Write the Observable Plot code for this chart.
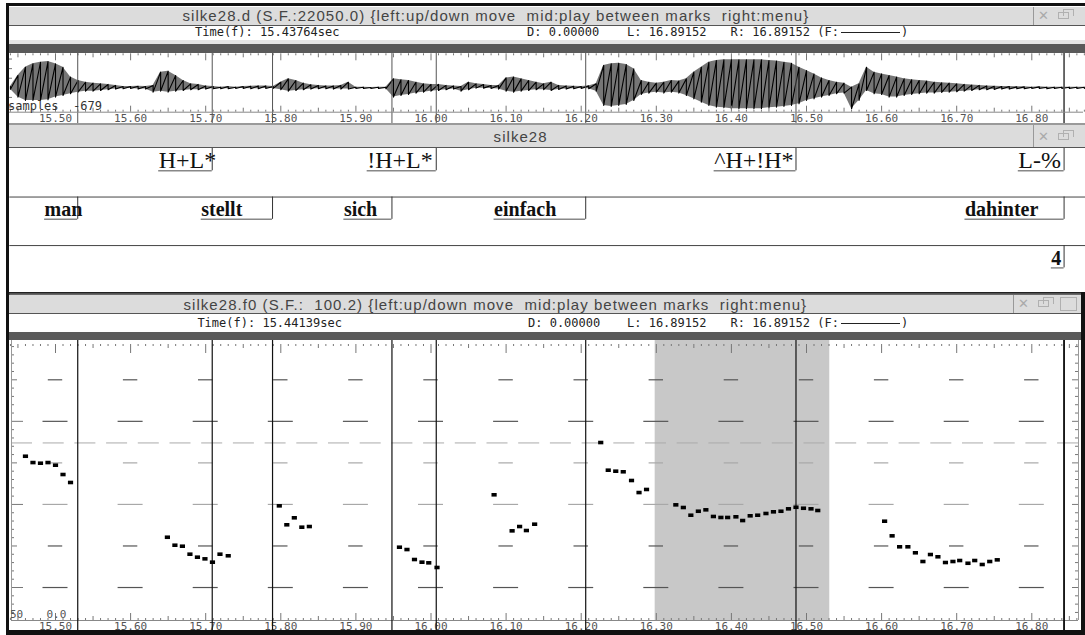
<!DOCTYPE html>
<html>
<head>
<meta charset="utf-8">
<script src="https://cdn.jsdelivr.net/npm/d3@7"></script>
<script src="https://cdn.jsdelivr.net/npm/@observablehq/plot@0.6"></script>
<style>
  html, body { margin:0; padding:0; background:#fff; }
  #root { position:relative; width:1085px; height:635px; overflow:hidden; background:#fff; }
  .a { position:absolute; box-sizing:border-box; }
  .tt { position:absolute; font-family:"Liberation Sans", Arial, sans-serif; font-size:15px; letter-spacing:1.05px; color:#444; white-space:pre; line-height:17px; }
  .mono { position:absolute; font-family:"DejaVu Sans Mono", monospace; font-size:12px; color:#222; white-space:pre; line-height:14px; }
  .small { position:absolute; font-family:"DejaVu Sans Mono", monospace; font-size:11px; color:#555; white-space:pre; line-height:13px; }
  .ico { position:absolute; font-family:"DejaVu Sans", sans-serif; font-size:13px; color:#aaa; line-height:15px; }
  .plot { position:absolute; left:0; }
</style>
</head>
<body>
<div id="root"></div>
<script>
// ================= DATA =================
const xTickValues = [15.5, 15.6, 15.7, 15.8, 15.9, 16.0, 16.1, 16.2, 16.3, 16.4, 16.5, 16.6, 16.7, 16.8];

// waveform envelope (sample units), read per 10 ms
const waveTimes = [
  15.44, 15.45, 15.46, 15.47, 15.48, 15.49, 15.50, 15.51, 15.52, 15.53,
  15.54, 15.55, 15.56, 15.57, 15.58, 15.59, 15.60, 15.61, 15.62, 15.63,
  15.64, 15.65, 15.66, 15.67, 15.68, 15.69, 15.70, 15.71, 15.72, 15.73,
  15.74, 15.75, 15.76, 15.77, 15.78, 15.79, 15.80, 15.81, 15.82, 15.83,
  15.84, 15.85, 15.86, 15.87, 15.88, 15.89, 15.90, 15.91, 15.92, 15.93,
  15.94, 15.95, 15.96, 15.97, 15.98, 15.99, 16.00, 16.01, 16.02, 16.03,
  16.04, 16.05, 16.06, 16.07, 16.08, 16.09, 16.10, 16.11, 16.12, 16.13,
  16.14, 16.15, 16.16, 16.17, 16.18, 16.19, 16.20, 16.21, 16.22, 16.23,
  16.24, 16.25, 16.26, 16.27, 16.28, 16.29, 16.30, 16.31, 16.32, 16.33,
  16.34, 16.35, 16.36, 16.37, 16.38, 16.39, 16.40, 16.41, 16.42, 16.43,
  16.44, 16.45, 16.46, 16.47, 16.48, 16.49, 16.50, 16.51, 16.52, 16.53,
  16.54, 16.55, 16.56, 16.57, 16.58, 16.59, 16.60, 16.61, 16.62, 16.63,
  16.64, 16.65, 16.66, 16.67, 16.68, 16.69, 16.70, 16.71, 16.72, 16.73,
  16.74, 16.75, 16.76, 16.77, 16.78, 16.79, 16.80, 16.81, 16.82, 16.83,
  16.84, 16.85, 16.86, 16.87
];
const waveUpper = [
  42, 385, 645, 750, 800, 820, 750, 645, 335, 230,
  175, 145, 125, 105, 75, 40, 40, 50, 40, 75,
  490, 520, 385, 230, 125, 105, 60, 40, 20, 40,
  20, 40, 50, 60, 60, 40, 175, 280, 230, 145,
  95, 75, 60, 60, 75, 175, 20, 20, 10, 20,
  20, 280, 250, 230, 175, 125, 105, 105, 75, 60,
  40, 175, 125, 105, 75, 75, 310, 335, 280, 230,
  175, 125, 175, 75, 60, 50, 40, 60, 125, 700,
  750, 770, 730, 595, 230, 175, 145, 175, 230, 210,
  280, 490, 645, 800, 855, 875, 875, 875, 875, 875,
  875, 855, 835, 800, 770, 645, 540, 435, 310, 230,
  175, 145, 20, 125, 645, 490, 435, 385, 335, 280,
  250, 230, 210, 175, 155, 145, 125, 105, 85, 75,
  60, 50, 40, 40, 30, 30, 20, 30, 20, 20,
  20, 20, 20, 20
];
const waveLower = [
  -42, -290, -395, -395, -395, -375, -290, -240, -185, -135,
  -105, -105, -85, -60, -40, -30, -20, -40, -40, -135,
  -105, -135, -105, -85, -60, -60, -40, -30, -30, -30,
  -20, -20, -30, -30, -20, -20, -60, -105, -85, -60,
  -40, -30, -30, -40, -40, -40, -20, -20, -20, -20,
  -30, -290, -240, -210, -165, -135, -105, -85, -60, -40,
  -105, -60, -10, -10, -20, -40, -105, -135, -105, -85,
  -60, -60, -85, -50, -40, -30, -20, -30, -105, -550,
  -585, -550, -520, -395, -210, -165, -135, -165, -135, -165,
  -240, -345, -450, -550, -605, -625, -655, -655, -655, -655,
  -655, -625, -605, -585, -550, -500, -395, -345, -290, -240,
  -185, -165, -655, -395, -85, -185, -210, -290, -290, -240,
  -210, -185, -165, -165, -145, -135, -125, -105, -85, -60,
  -60, -50, -40, -40, -30, -30, -20, -20, -30, -20,
  -20, -20, -20, -20
];

// label tiers: text, mark time, start of label text (s)
const toneLabels = ["H+L*", "!H+L*", "^H+!H*", "L-%"];
const toneTimes  = [15.7087, 16.007, 16.486, 16.843];
const toneStarts = [15.6374, 15.915, 16.377, 16.782];

const wordLabels = ["man", "stellt", "sich", "einfach", "dahinter"];
const wordTimes  = [15.5296, 15.789, 15.948, 16.206, 16.843];
const wordStarts = [15.4855, 15.694, 15.884, 16.084, 16.711];

const breakLabels = ["4"];
const breakTimes  = [16.843];
const breakStarts = [16.826];

// F0 track (Hz)
const f0Times = [
  15.460, 15.470, 15.480, 15.490, 15.500, 15.510, 15.520,
  15.649, 15.659, 15.669, 15.679, 15.689, 15.699, 15.709, 15.719, 15.730,
  15.798, 15.808, 15.818, 15.828, 15.838,
  15.958, 15.968, 15.978, 15.988, 15.997, 16.008,
  16.084, 16.108, 16.118, 16.127, 16.138,
  16.226, 16.236, 16.246, 16.256, 16.267, 16.277, 16.287,
  16.326, 16.336, 16.346, 16.356, 16.366, 16.376, 16.386, 16.395, 16.406, 16.415,
  16.425, 16.435, 16.446, 16.456, 16.466, 16.476, 16.486, 16.496, 16.506, 16.515,
  16.604, 16.614, 16.624, 16.635, 16.645, 16.655, 16.665, 16.675, 16.685, 16.695,
  16.704, 16.715, 16.724, 16.734, 16.744, 16.754
];
const f0Values = [
  258.0, 250.4, 249.6, 250.4, 247.2, 236.0, 226.4,
  160.5, 150.9, 149.7, 140.1, 136.5, 134.5, 130.5, 140.1, 138.2,
  198.3, 175.5, 183.9, 172.6, 173.4,
  148.5, 145.7, 133.7, 130.5, 129.7, 124.1,
  211.6, 168.2, 173.4, 168.6, 176.2,
  274.5, 241.2, 240.0, 239.3, 228.8, 214.3, 218.0,
  199.5, 196.3, 187.0, 191.8, 193.5, 185.5, 184.3, 184.3, 185.1, 180.6,
  186.3, 187.0, 189.1, 191.1, 191.8, 194.7, 196.6, 195.4, 194.7, 192.7,
  179.8, 162.2, 149.0, 149.0, 141.8, 131.3, 139.7, 137.0, 130.1, 131.3,
  132.5, 129.2, 132.5, 127.7, 131.3, 133.3
];
const f0GridHz = [100, 150, 200, 250, 300, 350];
const f0RefHz = [274];
const selection = [16.2985, 16.531];

// ================= LAYOUT =================
const root = document.getElementById("root");
function box(l, t, w, h, bg, extra) {
  const d = document.createElement("div"); d.className = "a";
  Object.assign(d.style, {left: l + "px", top: t + "px", width: w + "px", height: h + "px", background: bg}, extra || {});
  root.appendChild(d); return d;
}
function txt(l, t, s, cls, extra) {
  const d = document.createElement("div"); d.className = cls; d.textContent = s;
  Object.assign(d.style, {left: l + "px", top: t + "px"}, extra || {});
  root.appendChild(d); return d;
}
function icons(xx, xIco, xSq, cy) {
  txt(xx, cy - 8, "\u2715", "ico");
  box(xIco, cy - 4, 11, 7, "transparent", {border: "1px solid #b0b0b0"});
  box(xIco + 5, cy - 7, 11, 7, "transparent", {border: "1px solid #b0b0b0", borderBottom: "none"});
  if (xSq) box(xSq, cy - 7, 17, 14, "transparent", {border: "1px solid #b0b0b0"});
}

const X_DOMAIN = [15.5, 16.8], X_RANGE = [55, 1031.3];
const fx = d3.scaleLinear(X_DOMAIN, X_RANGE);
const allMarks = [...toneTimes, ...wordTimes, ...breakTimes];

// ---- chrome (window 1)
box(9.3, 7, 1075.7, 18, "#dcdcdc");
box(9.3, 25, 1075.7, 1, "#555");
txt(182.5, 7.3, "silke28.d (S.F.:22050.0) {left:up/down move  mid:play between marks  right:menu}", "tt");
box(1033, 7, 1, 18, "#999");
icons(1038, 1058, null, 16);
txt(195, 24.6, "Time(f): 15.43764sec", "mono");
txt(527, 24.6, "D: 0.00000", "mono");
txt(627, 24.6, "L: 16.89152", "mono");
txt(730.5, 24.6, "R: 16.89152 (F:", "mono");
box(841, 32, 59, 1, "#222");
txt(901, 24.6, ")", "mono");
box(9.3, 39.5, 1075.7, 4.8, "#e6e6e6");
box(9.3, 44.3, 1075.7, 8.7, "#5a5a5a");
box(9.3, 123.3, 1075.7, 1.7, "#9a9a9a");
// ---- window 2
box(9.3, 125, 1075.7, 22.2, "#dcdcdc");
box(9.3, 147.2, 1075.7, 1, "#555");
txt(493.6, 128, "silke28", "tt");
box(1033, 125, 1, 22, "#999");
icons(1038, 1058, null, 137);
// ---- window 3
box(9.3, 291.5, 1075.7, 3, "#222");
box(9.3, 295, 1071.7, 18, "#dcdcdc");
box(9.3, 313, 1071.7, 1, "#555");
txt(183.5, 296.3, "silke28.f0 (S.F.:  100.2) {left:up/down move  mid:play between marks  right:menu}", "tt");
box(1013, 295, 1, 18, "#999");
icons(1018, 1038, 1060, 304);
txt(197.4, 315.6, "Time(f): 15.44139sec", "mono");
txt(528, 315.6, "D: 0.00000", "mono");
txt(627, 315.6, "L: 16.89152", "mono");
txt(730.5, 315.6, "R: 16.89152 (F:", "mono");
box(841, 323, 59, 1, "#222");
txt(901, 315.6, ")", "mono");
box(9.3, 331.5, 1071.7, 8.5, "#5a5a5a");

function place(svg, top) {
  svg.classList.add("plot");
  svg.style.position = "absolute"; svg.style.left = "0px"; svg.style.top = top + "px";
  root.appendChild(svg);
}
const minorTicks = d3.range(1544, 1688).map(k => ({t: k / 100, k}));
const tickLen = (k, a, b, c) => k % 10 === 0 ? a : k % 5 === 0 ? b : c;

// ================= WAVEFORM =================
const WAVE_TOP = 53, WAVE_H = 71;
const wy = d3.scaleLinear([-763, 1064], [58.7, 0.3]);
const wave = waveTimes.map((t, i) => ({t, hi: waveUpper[i], lo: waveLower[i]}));
// trace each envelope sample top -> bottom so the line swings like the signal
const zig = wave.flatMap(d => [{t: d.t, v: d.hi}, {t: d.t, v: d.lo}]);
const waveSvg = Plot.plot({
  width: 1085, height: WAVE_H,
  marginLeft: 8, marginRight: 2, marginTop: 0, marginBottom: WAVE_H - 58.7,
  style: {background: "transparent", fontFamily: "DejaVu Sans Mono", fontSize: "11px", color: "#555", overflow: "visible"},
  x: {domain: X_DOMAIN, range: X_RANGE, ticks: xTickValues, tickFormat: ".2f", tickSize: 0, tickPadding: 2, label: null},
  y: {domain: wy.domain(), range: wy.range(), axis: null},
  marks: [
    Plot.ruleX(minorTicks, {x: "t", y1: wy.invert(0.3), y2: d => wy.invert(0.3 + tickLen(d.k, 7, 4, 2)), stroke: "#777"}),
    Plot.ruleY([-600, -300, 300, 600, 900], {x1: fx.invert(8), x2: fx.invert(12), stroke: "#777"}),
    Plot.areaY(wave, {x: "t", y1: "lo", y2: "hi", fill: "#222", fillOpacity: 0.62}),
    Plot.line(zig, {x: "t", y: "v", stroke: "#000", strokeWidth: 1.1}),
    Plot.ruleX(allMarks, {x: d => d, y1: wy.invert(0), y2: wy.invert(70), stroke: "#555", strokeWidth: 1}),
    Plot.ruleY([-763], {stroke: "#888"}),
    Plot.ruleX(minorTicks, {x: "t", y1: -763, y2: d => wy.invert(58.7 - tickLen(d.k, 6, 4, 2)), stroke: "#777"})
  ]
});
place(waveSvg, WAVE_TOP);
txt(8, 98.9, "samples  -679", "mono", {color: "#333"});

// ================= LABEL TIERS =================
const LBL_TOP = 147.7, LBL_H = 146;
const UL = 0.46;
const tiers = [
  ...toneLabels.map((s, i) => ({tier: 0, label: s, time: toneTimes[i], start: toneStarts[i]})),
  ...wordLabels.map((s, i) => ({tier: 1, label: s, time: wordTimes[i], start: wordStarts[i]})),
  ...breakLabels.map((s, i) => ({tier: 2, label: s, time: breakTimes[i], start: breakStarts[i]}))
];
const lblSvg = Plot.plot({
  width: 1085, height: LBL_H,
  marginLeft: 9.3, marginRight: 0, marginTop: 0, marginBottom: 0,
  style: {background: "transparent", overflow: "visible"},
  x: {domain: X_DOMAIN, range: X_RANGE, axis: null},
  y: {domain: [0, 3], range: [0, 145.6], axis: null},
  marks: [
    Plot.ruleY([1, 2], {stroke: "#444"}),
    Plot.ruleY([3], {stroke: "#999"}),
    Plot.ruleY(tiers, {x1: "start", x2: "time", y: d => d.tier + UL, stroke: "#888", strokeWidth: 1.5}),
    Plot.ruleX(tiers, {x: "time", y1: d => d.tier, y2: d => d.tier + UL, stroke: "#333"}),
    Plot.text(tiers.filter(d => d.tier === 0), {x: "start", y: d => d.tier + UL, text: "label", textAnchor: "start", lineAnchor: "bottom", dy: -2.5, fontFamily: "Liberation Serif", fontSize: 24, fill: "#111"}),
    Plot.text(tiers.filter(d => d.tier > 0), {x: "start", y: d => d.tier + UL, text: "label", textAnchor: "start", lineAnchor: "bottom", dy: -3, fontFamily: "Liberation Serif", fontSize: 20, fontWeight: "bold", fill: "#111"})
  ]
});
place(lblSvg, LBL_TOP);

// ================= F0 =================
const F0_TOP = 340, F0_H = 295;
const fy = d3.scaleLinear([60.3, 397.3], [280, 0]);
const f0 = f0Times.map((t, i) => ({t, hz: f0Values[i]}));
const dashes = [];
for (const hz of f0GridHz) for (const t of xTickValues) {
  const half = (hz % 100 === 0 ? 12.5 : 7.2) / 751;
  dashes.push({hz, x1: t - half, x2: t + half, c: (hz === 200 || hz === 250) ? "#a8a8a8" : "#555"});
}
const yTicks = d3.range(70, 400, 10).map(hz => ({hz}));
const sqSym = {draw(ctx) { ctx.moveTo(-2.6, -1.8); ctx.lineTo(2.6, -1.8); ctx.lineTo(2.6, 1.8); ctx.lineTo(-2.6, 1.8); ctx.closePath(); }};
const xl = fx.invert(11), xr = fx.invert(1078);
const f0Svg = Plot.plot({
  width: 1085, height: F0_H,
  marginLeft: 11, marginRight: 7, marginTop: 0, marginBottom: 15,
  style: {background: "transparent", fontFamily: "DejaVu Sans Mono", fontSize: "11px", color: "#555", overflow: "visible"},
  x: {domain: X_DOMAIN, range: X_RANGE, ticks: xTickValues, tickFormat: ".2f", tickSize: 0, tickPadding: 1.5, label: null},
  y: {domain: fy.domain(), range: fy.range(), axis: null},
  marks: [
    Plot.rect([selection], {x1: d => d[0], x2: d => d[1], fill: "#c8c8c8"}),
    Plot.ruleY(f0RefHz, {stroke: "#aaa", strokeDasharray: "21,10.7"}),
    Plot.ruleY(dashes, {y: "hz", x1: "x1", x2: "x2", stroke: "c", strokeWidth: 1.2}),
    Plot.ruleY(yTicks, {y: "hz", x1: xl, x2: d => fx.invert(11 + (d.hz % 100 === 0 ? 12 : d.hz % 50 === 0 ? 6 : 3)), stroke: "#777"}),
    Plot.ruleY(yTicks, {y: "hz", x1: d => fx.invert(1078 - (d.hz % 50 === 0 ? 6 : 3)), x2: xr, stroke: "#777"}),
    Plot.ruleX(minorTicks, {x: "t", y1: fy.invert(4), y2: d => fy.invert(4 + tickLen(d.k, 9, 4, 2)), stroke: "#777"}),
    Plot.ruleX(minorTicks, {x: "t", y1: fy.invert(280), y2: d => fy.invert(280 - tickLen(d.k, 7, 4, 2)), stroke: "#777"}),
    Plot.ruleY([60.3], {stroke: "#888"}),
    Plot.ruleX([xl, xr], {stroke: "#999"}),
    Plot.ruleX(allMarks, {x: d => d, y1: fy.invert(0), y2: fy.invert(290), stroke: "#111", strokeWidth: 1.2}),
    Plot.dot(f0, {x: "t", y: "hz", symbol: sqSym, r: 3, fill: "#000", stroke: "none"})
  ]
});
place(f0Svg, F0_TOP);
txt(10, 607.7, "50", "small");
txt(46.5, 607.7, "0.0", "small");

// ---- outer borders
box(6, 3, 1079, 3.3, "#111");
box(6, 3, 3.3, 632, "#111");
box(1081, 291.5, 4, 343.5, "#111");
box(6, 630, 1079, 5, "#111");
</script>
</body>
</html>
